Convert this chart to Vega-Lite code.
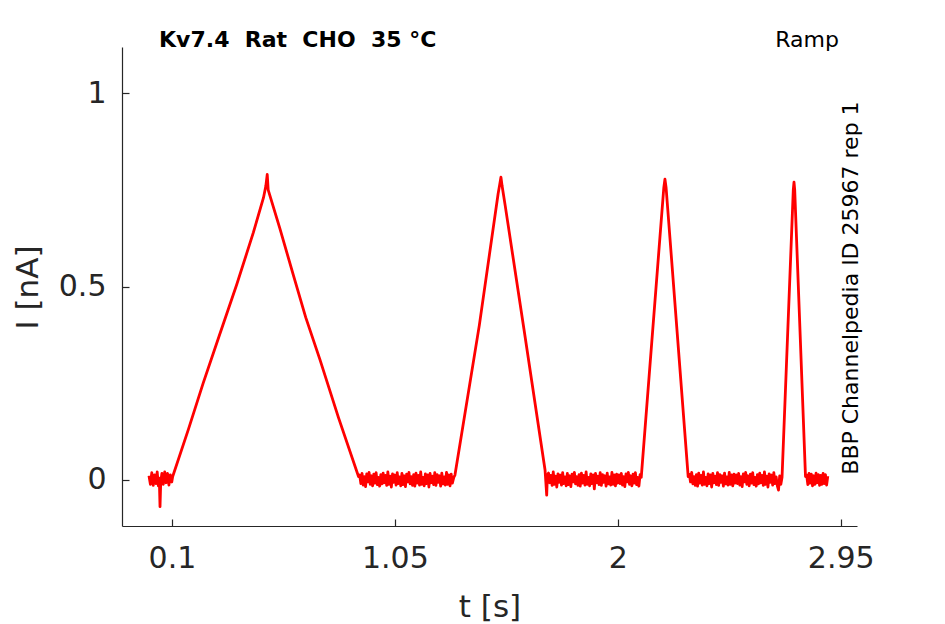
{
  "$schema": "https://vega.github.io/schema/vega-lite/v6.json",
  "width": 735,
  "height": 479,
  "autosize": "none",
  "padding": {"left": 122, "top": 47, "right": 88, "bottom": 98},
  "background": "white",
  "config": {
    "view": {"stroke": null},
    "axis": {
      "grid": false,
      "domainColor": "#262626",
      "tickColor": "#262626",
      "labelColor": "#262626",
      "titleColor": "#262626",
      "labelFont": "DejaVu Sans",
      "titleFont": "DejaVu Sans",
      "labelFontSize": 30,
      "titleFontSize": 31,
      "titleFontWeight": "normal",
      "tickSize": -7,
      "domainWidth": 1.2,
      "tickWidth": 1.2
    }
  },
  "datasets": {
    "trace": [
      {"t":0.002,"i":0.010},{"t":0.008,"i":-0.012},{"t":0.014,"i":0.018},{"t":0.020,"i":-0.015},{"t":0.026,"i":0.012},{"t":0.032,"i":-0.010},{"t":0.037,"i":0.020},{"t":0.042,"i":-0.016},{"t":0.046,"i":0.004},{"t":0.049,"i":-0.070},{"t":0.052,"i":-0.006},{"t":0.057,"i":0.016},{"t":0.063,"i":-0.012},{"t":0.069,"i":0.020},{"t":0.075,"i":-0.008},{"t":0.081,"i":0.016},{"t":0.087,"i":-0.014},{"t":0.093,"i":0.012},{"t":0.099,"i":-0.006},
      {"t":0.103,"i":0.008},{"t":0.17,"i":0.13},{"t":0.233,"i":0.25},{"t":0.30,"i":0.37},{"t":0.376,"i":0.505},{"t":0.447,"i":0.64},{"t":0.49,"i":0.73},{"t":0.50,"i":0.76},{"t":0.506,"i":0.790},{"t":0.51,"i":0.75},{"t":0.56,"i":0.65},{"t":0.617,"i":0.53},{"t":0.67,"i":0.42},{"t":0.731,"i":0.31},{"t":0.81,"i":0.16},{"t":0.895,"i":0.008},
      {"t":0.900,"i":0.012},{"t":0.905,"i":-0.010},{"t":0.910,"i":0.016},{"t":0.915,"i":-0.014},{"t":0.920,"i":0.008},{"t":0.925,"i":-0.018},{"t":0.930,"i":0.015},{"t":0.935,"i":-0.006},{"t":0.940,"i":0.019},{"t":0.945,"i":-0.012},{"t":0.950,"i":0.010},{"t":0.955,"i":-0.016},{"t":0.960,"i":0.014},{"t":0.965,"i":-0.009},{"t":0.970,"i":0.018},{"t":0.975,"i":-0.013},{"t":0.980,"i":0.006},{"t":0.985,"i":-0.017},{"t":0.990,"i":0.013},{"t":0.995,"i":-0.011},
      {"t":1.000,"i":0.017},{"t":1.005,"i":-0.008},{"t":1.010,"i":0.011},{"t":1.015,"i":-0.015},{"t":1.020,"i":0.020},{"t":1.025,"i":-0.012},{"t":1.030,"i":0.009},{"t":1.035,"i":-0.019},{"t":1.040,"i":0.015},{"t":1.045,"i":-0.007},{"t":1.050,"i":0.012},{"t":1.055,"i":-0.014},{"t":1.060,"i":0.018},{"t":1.065,"i":-0.010},{"t":1.070,"i":0.007},{"t":1.075,"i":-0.016},{"t":1.080,"i":0.016},{"t":1.085,"i":-0.013},{"t":1.090,"i":0.010},{"t":1.095,"i":-0.018},
      {"t":1.100,"i":0.014},{"t":1.105,"i":-0.006},{"t":1.110,"i":0.019},{"t":1.115,"i":-0.011},{"t":1.120,"i":0.008},{"t":1.125,"i":-0.015},{"t":1.130,"i":0.013},{"t":1.135,"i":-0.017},{"t":1.140,"i":0.017},{"t":1.145,"i":-0.009},{"t":1.150,"i":0.011},{"t":1.155,"i":-0.014},{"t":1.160,"i":0.020},{"t":1.165,"i":-0.012},{"t":1.170,"i":0.006},{"t":1.175,"i":-0.016},{"t":1.180,"i":0.015},{"t":1.185,"i":-0.010},{"t":1.190,"i":0.012},{"t":1.195,"i":-0.019},
      {"t":1.200,"i":0.016},{"t":1.205,"i":-0.008},{"t":1.210,"i":0.009},{"t":1.215,"i":-0.013},{"t":1.220,"i":0.018},{"t":1.225,"i":-0.015},{"t":1.230,"i":0.013},{"t":1.235,"i":-0.007},{"t":1.240,"i":0.010},{"t":1.245,"i":-0.017},{"t":1.250,"i":0.017},{"t":1.255,"i":-0.011},{"t":1.260,"i":0.007},{"t":1.265,"i":-0.014},{"t":1.270,"i":0.019},{"t":1.275,"i":-0.012},{"t":1.280,"i":0.012},{"t":1.285,"i":-0.016},{"t":1.290,"i":0.014},{"t":1.295,"i":-0.009},
      {"t":1.301,"i":0.006},{"t":1.306,"i":0.012},{"t":1.41,"i":0.40},{"t":1.49,"i":0.74},{"t":1.497,"i":0.765},{"t":1.502,"i":0.783},{"t":1.507,"i":0.76},{"t":1.52,"i":0.71},{"t":1.60,"i":0.39},{"t":1.69,"i":0.025},{"t":1.697,"i":-0.040},{"t":1.700,"i":0.012},
      {"t":1.705,"i":0.017},{"t":1.710,"i":-0.008},{"t":1.715,"i":0.011},{"t":1.720,"i":-0.015},{"t":1.725,"i":0.020},{"t":1.730,"i":-0.012},{"t":1.735,"i":0.009},{"t":1.740,"i":-0.019},{"t":1.745,"i":0.015},{"t":1.750,"i":-0.007},{"t":1.755,"i":0.012},{"t":1.760,"i":-0.014},{"t":1.765,"i":0.018},{"t":1.770,"i":-0.010},{"t":1.775,"i":0.007},{"t":1.780,"i":-0.016},{"t":1.785,"i":0.016},{"t":1.790,"i":-0.013},{"t":1.795,"i":0.010},{"t":1.800,"i":-0.018},
      {"t":1.805,"i":0.014},{"t":1.810,"i":-0.006},{"t":1.815,"i":0.019},{"t":1.820,"i":-0.011},{"t":1.825,"i":0.008},{"t":1.830,"i":-0.015},{"t":1.835,"i":0.013},{"t":1.840,"i":-0.017},{"t":1.845,"i":0.017},{"t":1.850,"i":-0.009},{"t":1.855,"i":0.011},{"t":1.860,"i":-0.014},{"t":1.865,"i":0.020},{"t":1.870,"i":-0.012},{"t":1.875,"i":0.006},{"t":1.880,"i":-0.016},{"t":1.885,"i":0.015},{"t":1.890,"i":-0.010},{"t":1.895,"i":0.012},{"t":1.900,"i":-0.024},
      {"t":1.905,"i":0.016},{"t":1.910,"i":-0.008},{"t":1.915,"i":0.009},{"t":1.920,"i":-0.013},{"t":1.925,"i":0.018},{"t":1.930,"i":-0.015},{"t":1.935,"i":0.013},{"t":1.940,"i":-0.007},{"t":1.945,"i":0.010},{"t":1.950,"i":-0.017},{"t":1.955,"i":0.017},{"t":1.960,"i":-0.011},{"t":1.965,"i":0.007},{"t":1.970,"i":-0.014},{"t":1.975,"i":0.019},{"t":1.980,"i":-0.012},{"t":1.985,"i":0.012},{"t":1.990,"i":-0.016},{"t":1.995,"i":0.014},{"t":2.000,"i":-0.009},
      {"t":2.005,"i":0.012},{"t":2.010,"i":-0.010},{"t":2.015,"i":0.016},{"t":2.020,"i":-0.014},{"t":2.025,"i":0.008},{"t":2.030,"i":-0.018},{"t":2.035,"i":0.015},{"t":2.040,"i":-0.006},{"t":2.045,"i":0.019},{"t":2.050,"i":-0.012},{"t":2.055,"i":0.010},{"t":2.060,"i":-0.016},{"t":2.065,"i":0.014},{"t":2.070,"i":-0.009},{"t":2.075,"i":0.018},{"t":2.080,"i":-0.013},{"t":2.085,"i":0.006},{"t":2.090,"i":-0.017},{"t":2.095,"i":0.013},
      {"t":2.100,"i":0.006},{"t":2.196,"i":0.755},{"t":2.201,"i":0.778},{"t":2.206,"i":0.755},{"t":2.300,"i":0.008},
      {"t":2.305,"i":0.014},{"t":2.310,"i":-0.006},{"t":2.315,"i":0.019},{"t":2.320,"i":-0.011},{"t":2.325,"i":0.008},{"t":2.330,"i":-0.015},{"t":2.335,"i":0.013},{"t":2.340,"i":-0.017},{"t":2.345,"i":0.017},{"t":2.350,"i":-0.009},{"t":2.355,"i":0.011},{"t":2.360,"i":-0.014},{"t":2.365,"i":0.020},{"t":2.370,"i":-0.012},{"t":2.375,"i":0.006},{"t":2.380,"i":-0.016},{"t":2.385,"i":0.015},{"t":2.390,"i":-0.010},{"t":2.395,"i":0.012},{"t":2.400,"i":-0.019},
      {"t":2.405,"i":0.016},{"t":2.410,"i":-0.008},{"t":2.415,"i":0.009},{"t":2.420,"i":-0.013},{"t":2.425,"i":0.018},{"t":2.430,"i":-0.015},{"t":2.435,"i":0.013},{"t":2.440,"i":-0.007},{"t":2.445,"i":0.010},{"t":2.450,"i":-0.017},{"t":2.455,"i":0.017},{"t":2.460,"i":-0.011},{"t":2.465,"i":0.007},{"t":2.470,"i":-0.014},{"t":2.475,"i":0.019},{"t":2.480,"i":-0.012},{"t":2.485,"i":0.012},{"t":2.490,"i":-0.016},{"t":2.495,"i":0.014},{"t":2.500,"i":-0.009},
      {"t":2.505,"i":0.012},{"t":2.510,"i":-0.010},{"t":2.515,"i":0.016},{"t":2.520,"i":-0.014},{"t":2.525,"i":0.008},{"t":2.530,"i":-0.018},{"t":2.535,"i":0.015},{"t":2.540,"i":-0.006},{"t":2.545,"i":0.019},{"t":2.550,"i":-0.012},{"t":2.555,"i":0.010},{"t":2.560,"i":-0.016},{"t":2.565,"i":0.014},{"t":2.570,"i":-0.009},{"t":2.575,"i":0.018},{"t":2.580,"i":-0.013},{"t":2.585,"i":0.006},{"t":2.590,"i":-0.017},{"t":2.595,"i":0.013},{"t":2.600,"i":-0.011},
      {"t":2.605,"i":0.017},{"t":2.610,"i":-0.008},{"t":2.615,"i":0.011},{"t":2.620,"i":-0.015},{"t":2.625,"i":0.020},{"t":2.630,"i":-0.012},{"t":2.635,"i":0.009},{"t":2.640,"i":-0.019},{"t":2.645,"i":0.015},{"t":2.650,"i":-0.007},{"t":2.655,"i":0.012},{"t":2.660,"i":-0.014},{"t":2.665,"i":0.018},{"t":2.670,"i":-0.010},{"t":2.675,"i":0.007},{"t":2.680,"i":-0.016},{"t":2.685,"i":-0.027},{"t":2.690,"i":0.010},{"t":2.695,"i":-0.012},
      {"t":2.700,"i":0.006},{"t":2.748,"i":0.75},{"t":2.751,"i":0.770},{"t":2.754,"i":0.75},{"t":2.800,"i":0.008},
      {"t":2.805,"i":0.012},{"t":2.810,"i":-0.013},{"t":2.815,"i":0.016},{"t":2.820,"i":-0.009},{"t":2.825,"i":0.014},{"t":2.830,"i":-0.016},{"t":2.835,"i":0.010},{"t":2.840,"i":-0.012},{"t":2.845,"i":0.017},{"t":2.850,"i":-0.008},{"t":2.855,"i":0.013},{"t":2.860,"i":-0.015},{"t":2.865,"i":0.011},{"t":2.870,"i":-0.012},{"t":2.875,"i":0.016},{"t":2.880,"i":-0.010},{"t":2.885,"i":0.013},{"t":2.890,"i":-0.014},{"t":2.895,"i":0.009}
    ],
    "notes": [
      {"t":0.045,"i":1.12,"label":"Kv7.4 \u00a0Rat \u00a0CHO \u00a035 °C","kind":"title"},
      {"t":2.807,"i":1.12,"label":"Ramp","kind":"ramp"},
      {"t":3.023,"i":0.496,"label":"BBP Channelpedia ID 25967 rep 1","kind":"side"}
    ]
  },
  "encoding": {
    "x": {
      "field": "t",
      "type": "quantitative",
      "scale": {"domain": [-0.113, 3.0195], "nice": false, "zero": false},
      "axis": {"values": [0.1, 1.05, 2, 2.95], "labelExpr": "format(datum.value, '~g')", "title": "t [s]", "labelPadding": 24, "titleBaseline": "alphabetic", "titleY": 90}
    },
    "y": {
      "field": "i",
      "type": "quantitative",
      "scale": {"domain": [-0.12, 1.12], "nice": false, "zero": false},
      "axis": {"values": [0, 0.5, 1], "labelExpr": "format(datum.value, '~g')", "title": "I [nA]", "labelPadding": 23, "titleBaseline": "alphabetic", "titleX": -85, "titleY": 240, "titleAngle": 270}
    }
  },
  "layer": [
    {
      "data": {"name": "trace"},
      "mark": {"type": "line", "color": "#ff0000", "strokeWidth": 2.8, "strokeJoin": "round"}
    },
    {
      "data": {"name": "notes"},
      "transform": [{"filter": "datum.kind == 'title'"}],
      "mark": {"type": "text", "font": "DejaVu Sans", "fontSize": 22, "fontWeight": "bold", "align": "left", "baseline": "alphabetic", "color": "#000000", "clip": false},
      "encoding": {"text": {"field": "label"}}
    },
    {
      "data": {"name": "notes"},
      "transform": [{"filter": "datum.kind == 'ramp'"}],
      "mark": {"type": "text", "font": "DejaVu Sans", "fontSize": 22, "align": "center", "baseline": "alphabetic", "color": "#000000", "clip": false},
      "encoding": {"text": {"field": "label"}}
    },
    {
      "data": {"name": "notes"},
      "transform": [{"filter": "datum.kind == 'side'"}],
      "mark": {"type": "text", "font": "DejaVu Sans", "fontSize": 22, "align": "center", "baseline": "alphabetic", "angle": 270, "color": "#000000", "clip": false},
      "encoding": {"text": {"field": "label"}}
    }
  ]
}
